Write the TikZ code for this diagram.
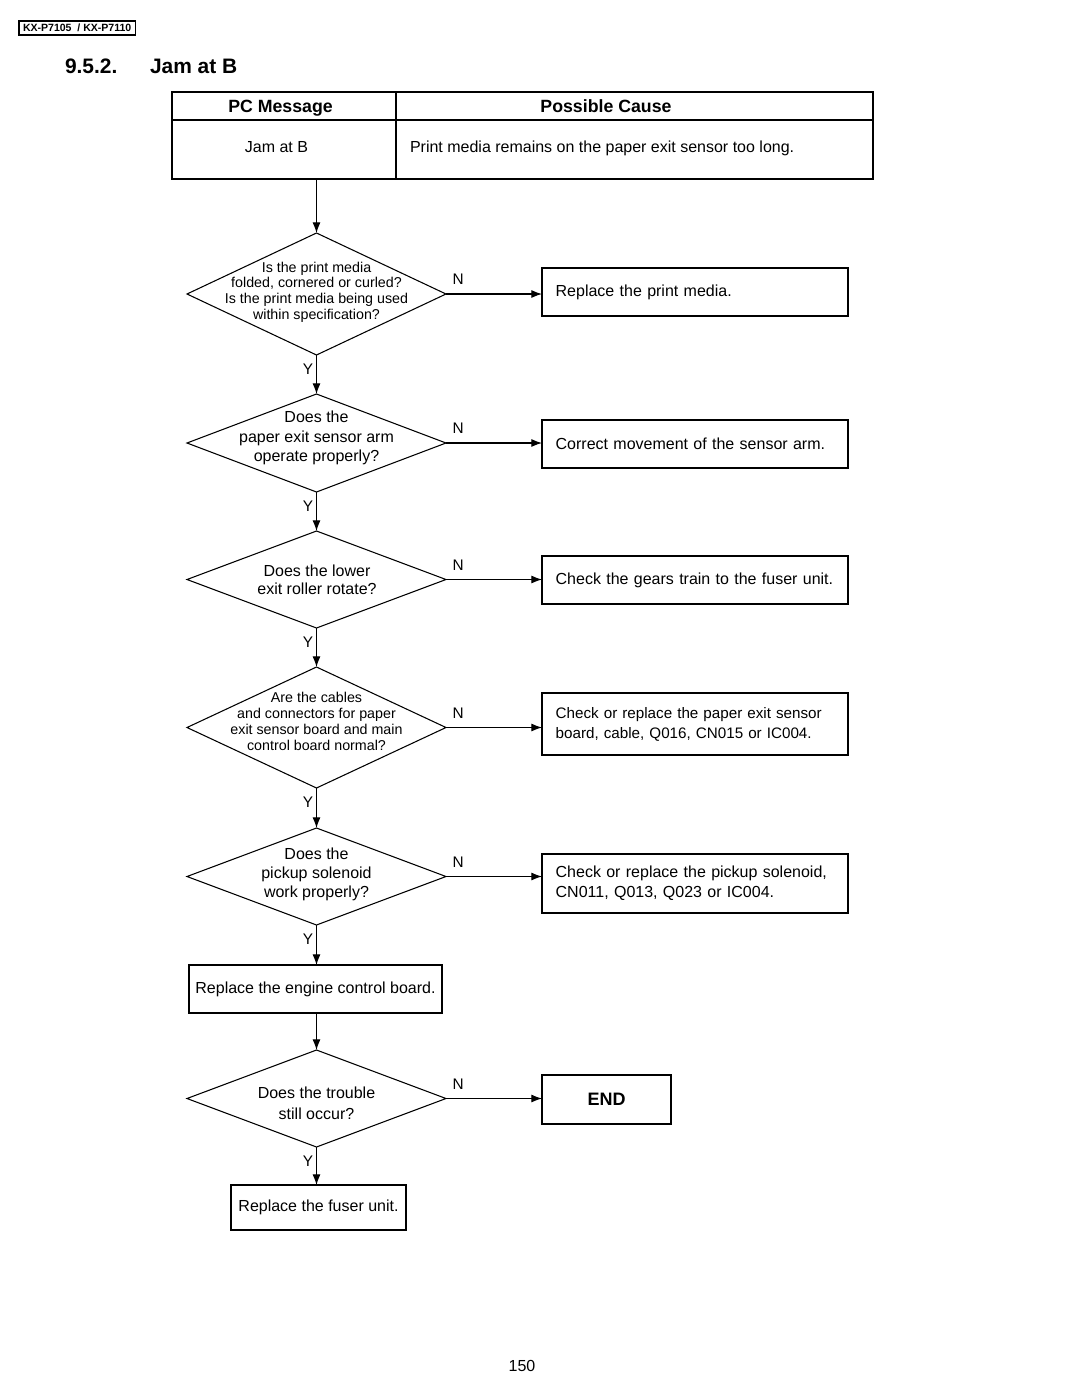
\documentclass[tikz,border=0pt]{standalone}
\usepackage{fontspec}
\setmainfont{Liberation Sans}
\usetikzlibrary{shapes.geometric,arrows.meta}
\begin{document}
\begin{tikzpicture}[x=0.75pt,y=-0.75pt,
  every node/.style={inner sep=0pt, outer sep=0pt},
  ln/.style={line width=0.8pt},
  arr/.style={ln, -{Latex[length=8pt,width=6pt]}},
  dia/.style={ln, draw, shape=diamond, minimum width=194.25pt, inner sep=0pt},
  dtxt/.style={align=center, font=\fontsize{12}{14.5}\selectfont},
  dtxts/.style={align=center, font=\fontsize{10.7}{11.8}\selectfont},
  box/.style={ln, draw, minimum height=36pt, text width=209pt, align=left,
              inner xsep=10.25pt, inner ysep=0pt, font=\fontsize{12}{15}\selectfont},
  cbox/.style={ln, draw, align=center, font=\fontsize{12}{15}\selectfont},
  nl/.style={pos=0, anchor=south west, xshift=5pt, yshift=7pt, font=\fontsize{11.5}{13}\selectfont},
  yl/.style={pos=0, anchor=north east, xshift=-2.5pt, yshift=-6.5pt, font=\fontsize{11.5}{13}\selectfont},
  thd/.style={anchor=base, font=\bfseries\fontsize{13.3}{15}\selectfont},
  ttx/.style={anchor=base, font=\fontsize{12}{15}\selectfont}
]
\fill[white] (0,0) rectangle (1080,1397);
\useasboundingbox (0,0) rectangle (1080,1397);

% header
\node[ln, draw, anchor=west, inner xsep=3pt, minimum height=10.5pt,
      font=\bfseries\fontsize{7.9}{9}\selectfont] (hdr) at (19,28) {KX-P7105\ \ / KX-P7110};
\node[anchor=base west, font=\bfseries\fontsize{15.7}{19}\selectfont] (secnum) at (65,73) {9.5.2.};
\node[anchor=base west, font=\bfseries\fontsize{15.7}{19}\selectfont] (sectitle) at (150,73) {Jam at B};

% table
\draw[ln] (172,92) rectangle (873,179);
\draw[ln] (172,120) -- (873,120);
\draw[ln] (396,92) -- (396,179);
\node[thd] (th1) at (280.5,112.5) {PC Message};
\node[thd] (th2) at (606,112.5) {Possible Cause};
\node[ttx] (tc1) at (276.5,152.5) {Jam at B};
\node[ttx, anchor=base west] (tc2) at (410,152.5) {Print media remains on the paper exit sensor too long.};
\coordinate (tb) at (316.5,179);

% diamonds
\node[dia, minimum height=91.5pt] (d1) at (316.5,294) {};
\node[dtxts] (d1t) at (316.5,292) {Is the print media\\folded, cornered or curled?\\Is the print media being used\\within specification?};
\node[dia, minimum height=73.5pt] (d2) at (316.5,443) {};
\node[dtxt] (d2t) at (316.5,438) {Does the\\paper exit sensor arm\\operate properly?};
\node[dia, minimum height=72.75pt] (d3) at (316.5,579.5) {};
\node[dtxt, font=\fontsize{12}{13.5}\selectfont] (d3t) at (317,580) {Does the lower\\exit roller rotate?};
\node[dia, minimum height=90.75pt] (d4) at (316.5,727.5) {};
\node[dtxts, font=\fontsize{10.7}{12}\selectfont] (d4t) at (316.5,721) {Are the cables\\and connectors for paper\\exit sensor board and main\\control board normal?};
\node[dia, minimum height=72.75pt] (d5) at (316.5,876.5) {};
\node[dtxt, font=\fontsize{12}{14.25}\selectfont] (d5t) at (316.5,874) {Does the\\pickup solenoid\\work properly?};
\node[dia, minimum height=72.75pt] (d6) at (316.5,1098.5) {};
\node[dtxt, font=\fontsize{12}{15.75}\selectfont] (d6t) at (316.5,1103.5) {Does the trouble\\still occur?};

% right boxes
\node[box] (b1) at (695,292) {Replace the print media.};
\node[box] (b2) at (695,444) {Correct movement of the sensor arm.};
\node[box] (b3) at (695,580) {Check the gears train to the fuser unit.};
\node[box, minimum height=46.5pt, font=\fontsize{11.4}{15}\selectfont] (b4) at (695,724) {Check or replace the paper exit sensor\\board, cable, Q016, CN015 or IC004.};
\node[box, minimum height=44.25pt] (b5) at (695,883.5) {Check or replace the pickup solenoid,\\CN011, Q013, Q023 or IC004.};
\node[cbox, minimum width=96.75pt, minimum height=36.75pt, font=\bfseries\fontsize{13.5}{15}\selectfont] (endb) at (606.5,1099.5) {END};

% left boxes
\node[cbox, minimum width=189.75pt, minimum height=36pt] (eng) at (315.5,989) {Replace the engine control board.};
\node[cbox, minimum width=131.25pt, minimum height=33.75pt] (fus) at (318.5,1207.5) {Replace the fuser unit.};

% connectors
\draw[arr] (tb) -- (d1.north);
\draw[arr] (d1.east) -- node[nl]{N} (d1.east -| b1.west);
\draw[arr] (d1.south) -- node[yl]{Y} (d2.north);
\draw[arr] (d2.east) -- node[nl]{N} (d2.east -| b2.west);
\draw[arr] (d2.south) -- node[yl]{Y} (d3.north);
\draw[arr] (d3.east) -- node[nl]{N} (d3.east -| b3.west);
\draw[arr] (d3.south) -- node[yl]{Y} (d4.north);
\draw[arr] (d4.east) -- node[nl]{N} (d4.east -| b4.west);
\draw[arr] (d4.south) -- node[yl]{Y} (d5.north);
\draw[arr] (d5.east) -- node[nl]{N} (d5.east -| b5.west);
\draw[arr] (d5.south) -- node[yl]{Y} (d5.south |- eng.north);
\draw[arr] (d5.south |- eng.south) -- (d6.north);
\draw[arr] (d6.east) -- node[nl]{N} (d6.east -| endb.west);
\draw[arr] (d6.south) -- node[yl]{Y} (d6.south |- fus.north);

% page number
\node[font=\fontsize{12}{14}\selectfont] (pg) at (522,1366) {150};
\end{tikzpicture}
\end{document}
